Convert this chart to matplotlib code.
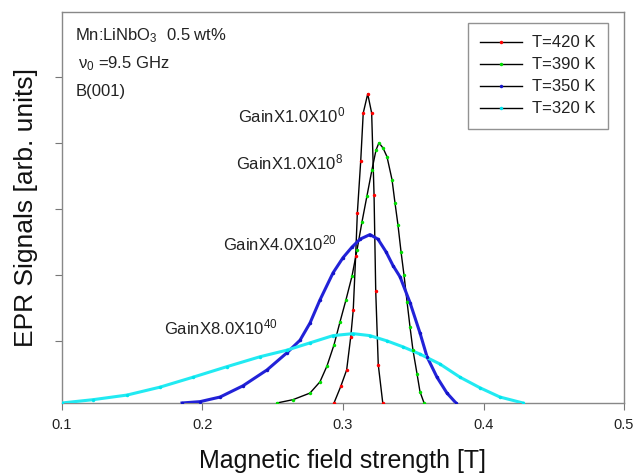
import matplotlib
matplotlib.use('Agg')
import matplotlib.pyplot as plt
from matplotlib.lines import Line2D

plt.rcParams['font.family'] = ['Liberation Sans', 'DejaVu Sans']
plt.rcParams['mathtext.fontset'] = 'custom'
plt.rcParams['mathtext.rm'] = 'Liberation Sans'
plt.rcParams['mathtext.it'] = 'Liberation Sans:italic'

# curvas EPR (campo em T, sinal em unidades arbitrárias)
b_420 = [0.2936, 0.2984, 0.3026, 0.3055, 0.3073, 0.3090, 0.3102, 0.3126, 0.3144,
         0.3176, 0.3204, 0.3221, 0.3233, 0.3251, 0.3283]
s_420 = [0.00, 0.25, 0.50, 1.00, 1.41, 2.22, 2.87, 3.66, 4.39,
         4.68, 4.39, 3.15, 1.69, 0.58, 0.00]

b_390 = [0.2530, 0.2644, 0.2765, 0.2836, 0.2886, 0.2936, 0.2979, 0.3021, 0.3064,
         0.3100, 0.3135, 0.3171, 0.3206, 0.3235, 0.3256, 0.3285, 0.3313, 0.3349,
         0.3370, 0.3391, 0.3413, 0.3434, 0.3456, 0.3477, 0.3498, 0.3527, 0.3548, 0.3577]
s_390 = [0.00, 0.05, 0.15, 0.32, 0.56, 0.88, 1.23, 1.56, 1.92,
         2.32, 2.74, 3.14, 3.53, 3.83, 3.94, 3.86, 3.73, 3.38,
         3.03, 2.70, 2.29, 1.94, 1.53, 1.15, 0.80, 0.44, 0.17, 0.00]

b_350 = [0.1854, 0.1982, 0.2125, 0.2288, 0.2459, 0.2601, 0.2694, 0.2765, 0.2836,
         0.2929, 0.3000, 0.3064, 0.3121, 0.3192, 0.3249, 0.3306, 0.3356, 0.3406,
         0.3477, 0.3548, 0.3598, 0.3669, 0.3740, 0.3804]
s_350 = [0.00, 0.02, 0.09, 0.26, 0.50, 0.76, 0.95, 1.21, 1.56,
         1.97, 2.20, 2.36, 2.48, 2.55, 2.48, 2.29, 2.08, 1.91,
         1.52, 1.06, 0.70, 0.39, 0.15, 0.00]

b_320 = [0.1000, 0.1221, 0.1463, 0.1698, 0.1932, 0.2174, 0.2409, 0.2601, 0.2765,
         0.2929, 0.3071, 0.3192, 0.3313, 0.3427, 0.3548, 0.3690, 0.3833, 0.3975,
         0.4117, 0.4281]
s_320 = [0.00, 0.05, 0.12, 0.24, 0.39, 0.55, 0.70, 0.80, 0.91,
         1.02, 1.05, 1.02, 0.94, 0.85, 0.74, 0.59, 0.39, 0.23,
         0.09, 0.00]

rotulos = ['T=420 K', 'T=390 K', 'T=350 K', 'T=320 K']
cores = ['red', '#00dd00', '#1414c8', '#00e5ee']
cores_linha = ['black', 'black', '#2222d8', '#22eaf2']

ganhos = ['GainX1.0X10$^{0}$', 'GainX1.0X10$^{8}$', 'GainX4.0X10$^{20}$', 'GainX8.0X10$^{40}$']
ganho_x = [0.3014, 0.3000, 0.2957, 0.2537]
ganho_y = [4.36, 3.64, 2.42, 1.14]

fig = plt.figure(figsize=(6.35, 4.76), dpi=100)
ax = fig.add_axes([0.0976, 0.1534, 0.8851, 0.8214])

curvas = [(b_420, s_420), (b_390, s_390), (b_350, s_350), (b_320, s_320)]
for i, (b, s) in enumerate(curvas):
    lw = 1.0 if i < 2 else 2.2
    ax.plot(b, s, color=cores_linha[i], linewidth=lw, zorder=3)
    ax.plot(b, s, linestyle='none', marker='o', markersize=2.5,
            color=cores[i], markeredgewidth=0, zorder=4)

for txt, gx, gy in zip(ganhos, ganho_x, ganho_y):
    ax.text(gx, gy, txt, ha='right', va='center', fontsize=12, color='#222222')

ax.text(0.023, 0.94, 'Mn:LiNbO$_3$  0.5 wt%', transform=ax.transAxes,
        fontsize=12, va='center', color='#222222')
ax.text(0.028, 0.868, r'$\mathrm{\nu}_0$ =9.5 GHz', transform=ax.transAxes,
        fontsize=12, va='center', color='#222222')
ax.text(0.025, 0.797, 'B(001)', transform=ax.transAxes,
        fontsize=12, va='center', color='#222222')

handles = [Line2D([0], [0], color='black', linewidth=1.0, marker='o', markersize=2.5,
                  markerfacecolor=c, markeredgewidth=0) for c in cores]
leg = ax.legend(handles, rotulos, loc='upper right', bbox_to_anchor=(0.9715, 0.972),
                borderaxespad=0, numpoints=1, fontsize=12, frameon=True, fancybox=False,
                handlelength=2.5, labelspacing=0.42, handletextpad=0.6, borderpad=0.75)
leg.get_frame().set_edgecolor('#777777')
leg.get_frame().set_linewidth(1.0)
for t in leg.get_texts():
    t.set_color('#222222')

ax.set_xlim(0.1, 0.5)
ax.set_ylim(0, 5.92)
ax.set_xticks([0.1, 0.2, 0.3, 0.4, 0.5])
ax.set_xticklabels(['0.1', '0.2', '0.3', '0.4', '0.5'])
ax.set_yticks([0.94, 1.94, 2.94, 3.94, 4.94])
ax.set_yticklabels([])
ax.tick_params(direction='out', length=5, color='#777777', labelsize=10.5,
               labelcolor='#222222', pad=6)

for sp in ax.spines.values():
    sp.set_color('#888888')
    sp.set_linewidth(1.0)

ax.set_xlabel('Magnetic field strength [T]', fontsize=18, color='#111111', labelpad=12)
ax.set_ylabel('EPR Signals [arb. units]', fontsize=19, color='#111111', labelpad=6)

fig.savefig('out.png', dpi=100, facecolor='white')
